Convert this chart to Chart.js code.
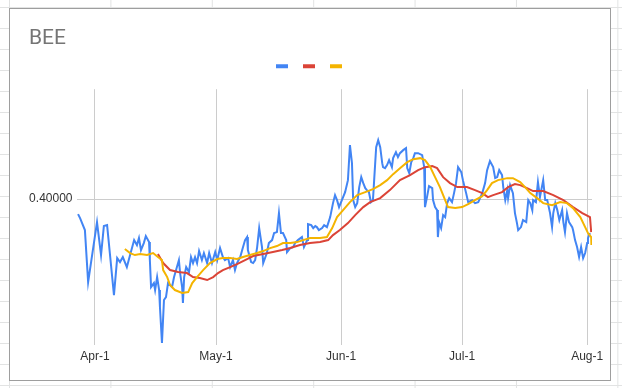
<!DOCTYPE html>
<html>
<head>
<meta charset="utf-8">
<script src="https://cdn.jsdelivr.net/npm/chart.js@4.4.0/dist/chart.umd.min.js"></script>
<style>
  html, body { margin: 0; padding: 0; }
  body {
    width: 622px; height: 388px; overflow: hidden; position: relative;
    background-color: #fff;
    background-image:
      linear-gradient(to right, #e2e3e3 1px, transparent 1px),
      linear-gradient(to bottom, #e2e3e3 1px, transparent 1px);
    background-size: 101.4px 21px;
    background-position: 9px 7px;
  }
  #frame {
    position: absolute; left: 9px; top: 8px; width: 602px; height: 373px;
    box-sizing: border-box; border: 1px solid #9e9e9e; background: #fff;
  }
  #chart { position: absolute; left: 0; top: 0; }
</style>
</head>
<body>
<div id="frame"><canvas id="chart" width="600" height="371"></canvas></div>
<script>
  // days counted from Apr-1
  const tickDays = [0, 30, 61, 91, 122];
  const tickLabels = ['Apr-1', 'May-1', 'Jun-1', 'Jul-1', 'Aug-1'];
  const yTicks = [0.4];

  // price (blue)
  const blueDays = [-4.2,-3.7,-2.5,-1.7,0.5,1.5,2.2,3.0,4.7,5.5,
    6.2,6.9,7.9,8.7,9.7,10.4,10.9,11.4,12.1,12.6,
    13.4,13.6,13.9,14.6,14.9,15.4,15.9,16.1,16.6,17.1,
    17.6,18.1,19.1,19.6,20.1,20.8,21.1,21.6,21.8,22.1,
    22.6,23.3,23.8,24.3,24.8,25.3,25.8,26.5,27.0,27.8,
    28.3,29.0,29.8,30.3,31.0,31.7,32.2,33.0,33.5,34.2,
    34.7,35.2,36.0,36.7,37.2,37.7,37.9,38.7,39.2,39.7,
    40.2,40.7,41.4,41.7,42.6,43.1,43.9,44.4,45.1,45.6,
    46.1,46.6,47.4,47.6,48.4,49.1,49.6,50.3,51.3,51.8,
    52.6,52.8,53.6,54.1,54.6,55.0,55.5,56.3,56.8,57.5,
    58.3,59.0,59.5,60.0,60.5,61.2,62.0,62.7,63.2,63.7,
    64.0,64.5,65.0,65.5,66.0,66.5,67.0,67.4,67.9,68.4,
    68.9,69.2,69.7,70.2,70.7,71.2,71.4,71.9,72.4,72.9,
    73.6,73.9,74.6,75.1,75.6,76.4,77.1,77.4,77.9,78.4,
    78.9,79.3,80.1,81.1,81.6,81.8,82.3,82.8,83.6,83.8,
    84.3,84.8,85.0,85.3,85.8,86.3,86.8,87.3,87.8,88.5,
    89.0,89.5,90.0,90.8,91.2,92.0,92.5,93.5,94.2,95.0,
    96.0,96.7,97.2,97.9,98.7,99.2,99.7,100.2,100.9,101.2,
    101.7,102.2,102.4,102.9,103.6,104.1,104.6,104.9,105.6,106.1,
    106.9,107.4,107.9,108.4,108.6,109.3,109.8,110.3,111.1,111.6,
    112.1,112.8,113.3,113.6,114.1,114.6,115.1,115.8,116.1,116.5,
    117.0,117.5,118.3,118.5,119.0,119.5,120.0,120.5,121.0,121.5,
    122.0,122.2,122.7];
  const blueValues = [0.385,0.381,0.369,0.317,0.377,0.344,0.373,0.374,0.304,0.341,
    0.337,0.342,0.332,0.344,0.359,0.354,0.361,0.349,0.356,0.363,
    0.357,0.339,0.312,0.316,0.309,0.322,0.309,0.292,0.256,0.299,
    0.302,0.316,0.312,0.322,0.329,0.339,0.326,0.312,0.296,0.322,
    0.332,0.327,0.342,0.336,0.342,0.336,0.348,0.339,0.346,0.336,
    0.346,0.336,0.347,0.339,0.351,0.342,0.339,0.341,0.332,0.339,
    0.329,0.336,0.342,0.352,0.359,0.362,0.349,0.337,0.336,0.339,
    0.352,0.371,0.352,0.336,0.346,0.356,0.359,0.366,0.367,0.386,
    0.366,0.366,0.359,0.347,0.351,0.352,0.356,0.359,0.362,0.352,
    0.359,0.375,0.374,0.371,0.373,0.372,0.369,0.371,0.374,0.372,
    0.382,0.396,0.404,0.399,0.392,0.399,0.407,0.419,0.454,0.436,
    0.399,0.392,0.396,0.412,0.422,0.416,0.411,0.409,0.407,0.397,
    0.399,0.419,0.452,0.459,0.452,0.436,0.432,0.431,0.434,0.439,
    0.432,0.441,0.447,0.442,0.446,0.449,0.451,0.431,0.426,0.437,
    0.441,0.446,0.446,0.444,0.432,0.392,0.402,0.413,0.411,0.399,
    0.392,0.389,0.362,0.377,0.371,0.384,0.382,0.396,0.401,0.397,
    0.406,0.416,0.432,0.427,0.419,0.406,0.397,0.399,0.396,0.397,
    0.406,0.416,0.429,0.438,0.432,0.421,0.422,0.429,0.424,0.412,
    0.399,0.409,0.401,0.414,0.406,0.386,0.376,0.369,0.372,0.379,
    0.377,0.399,0.396,0.389,0.399,0.397,0.417,0.402,0.419,0.399,
    0.399,0.386,0.372,0.386,0.396,0.389,0.379,0.389,0.377,0.367,
    0.386,0.377,0.372,0.369,0.359,0.352,0.342,0.352,0.341,0.346,
    0.356,0.361,0.366];

  // slow average (red)
  const redDays = [15.6,16.9,18.6,20.6,22.8,24.3,26.0,27.8,29.3,30.5,
    31.7,33.5,35.2,37.7,39.2,41.7,44.1,46.4,48.4,50.8,
    53.3,55.8,57.8,59.0,60.7,62.7,64.5,66.5,68.2,70.7,
    73.1,75.6,78.1,80.1,81.8,83.6,84.8,86.3,88.0,89.8,
    92.2,94.2,96.0,97.4,98.7,100.9,102.4,104.1,105.4,107.1,
    108.6,111.1,113.6,116.1,118.5,120.8,122.7,123.0];
  const redValues = [0.345,0.336,0.329,0.327,0.326,0.322,0.321,0.319,0.322,0.326,
    0.329,0.332,0.335,0.340,0.343,0.345,0.347,0.349,0.351,0.354,
    0.356,0.357,0.359,0.364,0.369,0.376,0.384,0.392,0.397,0.401,
    0.409,0.419,0.424,0.429,0.432,0.433,0.431,0.422,0.416,0.412,
    0.412,0.409,0.406,0.402,0.404,0.407,0.412,0.415,0.414,0.411,
    0.408,0.408,0.404,0.399,0.392,0.386,0.382,0.367];

  // fast average (yellow)
  const yellowDays = [7.4,8.7,9.9,11.2,12.9,14.4,15.6,16.6,16.9,17.9,
    18.6,19.8,21.6,23.1,24.1,25.3,26.8,28.5,30.3,31.7,
    33.5,35.2,36.7,38.4,40.2,41.7,43.4,45.1,46.6,48.4,
    50.1,51.6,53.3,55.8,57.5,58.8,60.0,61.5,63.2,65.0,
    67.0,68.9,70.7,72.4,73.9,75.6,77.4,78.9,80.6,81.8,
    83.1,84.3,85.5,86.5,87.5,89.3,91.0,92.5,94.2,96.0,
    97.2,98.4,99.9,102.2,103.6,105.4,106.6,107.9,109.6,111.1,
    113.3,115.3,117.0,118.5,120.3,121.5,122.2,123.0,123.05];
  const yellowValues = [0.350,0.346,0.344,0.345,0.344,0.346,0.342,0.339,0.329,0.322,
    0.314,0.309,0.306,0.307,0.316,0.322,0.329,0.336,0.340,0.341,
    0.341,0.340,0.342,0.344,0.346,0.348,0.351,0.353,0.356,0.356,
    0.357,0.359,0.361,0.361,0.362,0.371,0.382,0.389,0.397,0.404,
    0.407,0.410,0.414,0.419,0.425,0.431,0.437,0.440,0.441,0.439,
    0.432,0.422,0.412,0.402,0.392,0.391,0.392,0.395,0.399,0.403,
    0.409,0.416,0.419,0.421,0.421,0.417,0.412,0.406,0.401,0.396,
    0.394,0.397,0.396,0.391,0.382,0.372,0.366,0.362,0.354];

  function toPoints(days, values) {
    return days.map((d, i) => ({ x: d, y: values[i] }));
  }

  function lineSet(days, values, color, order) {
    return {
      label: '',
      data: toPoints(days, values),
      borderColor: color,
      backgroundColor: color,
      borderWidth: 2,
      pointRadius: 0,
      tension: 0,
      order: order
    };
  }

  // nudge the legend row a little to the right, like the sheet does
  const legendNudge = {
    id: 'legendNudge',
    afterLayout(chart) {
      chart.legend.left += 5;
      chart.legend.right += 5;
    }
  };

  const tickFont = { family: '"Liberation Sans", Arial, sans-serif', size: 12 };

  new Chart(document.getElementById('chart'), {
    type: 'line',
    data: {
      datasets: [
        lineSet(blueDays, blueValues, '#4285f4', 2),
        lineSet(redDays, redValues, '#db4437', 1),
        lineSet(yellowDays, yellowValues, '#f4b400', 0)
      ]
    },
    plugins: [legendNudge],
    options: {
      responsive: false,
      animation: false,
      layout: { padding: { left: 19, right: 18, top: 2, bottom: 0 } },
      scales: {
        x: {
          type: 'linear',
          min: -4.46,
          max: 123.2,
          afterBuildTicks: scale => { scale.ticks = tickDays.map(v => ({ value: v })); },
          afterFit: scale => { scale.height = 35; },
          ticks: {
            font: tickFont,
            color: '#333',
            padding: 4,
            maxRotation: 0,
            callback: value => tickLabels[tickDays.indexOf(value)]
          },
          grid: { color: '#cccccc', drawTicks: false },
          border: { display: false }
        },
        y: {
          min: 0.254,
          max: 0.510,
          afterBuildTicks: scale => { scale.ticks = yTicks.map(v => ({ value: v })); },
          afterFit: scale => { scale.width = 48; },
          ticks: {
            font: tickFont,
            color: '#333',
            padding: 4.5,
            callback: value => value.toFixed(5)
          },
          grid: { color: '#cccccc', drawTicks: false },
          border: { display: false }
        }
      },
      plugins: {
        title: {
          display: true,
          text: 'BEE',
          align: 'start',
          color: '#757575',
          font: { family: 'Roboto, "Liberation Sans", sans-serif', size: 21, weight: 'normal' },
          padding: { top: 15, bottom: 0 }
        },
        legend: {
          position: 'top',
          align: 'center',
          labels: {
            boxWidth: 12,
            boxHeight: 4,
            padding: 2,
            font: { size: 26 },
            sort: (a, b) => a.datasetIndex - b.datasetIndex,
            generateLabels: chart =>
              Chart.defaults.plugins.legend.labels.generateLabels(chart).map(item => {
                item.lineWidth = 0;
                item.text = '';
                return item;
              })
          }
        },
        tooltip: { enabled: false }
      }
    }
  });
</script>
</body>
</html>
